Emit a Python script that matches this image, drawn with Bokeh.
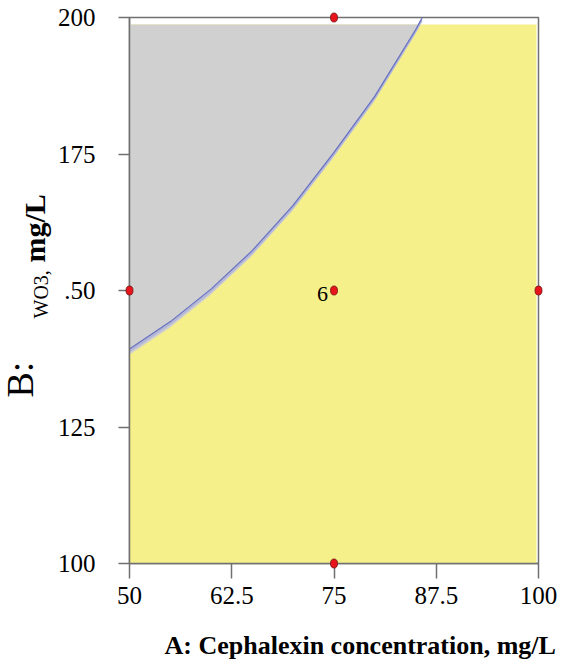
import numpy as np
from bokeh.plotting import figure
from bokeh.models import Range1d, FixedTicker
from bokeh.core.properties import value
from bokeh.embed import file_html
from bokeh.resources import INLINE

# ---- data ----
# design points (A: Cephalexin, B: WO3)
pts_a = [75, 50, 75, 100, 75]
pts_b = [200, 150, 150, 150, 100]
center_a = [75]
center_b = [150]
center_text = ["6"]

# boundary contour between grey (upper-left) and yellow regions
bound_a = [50, 55, 60, 65, 70, 75, 80, 85, 85.8]
bound_b = [139.3, 144.3, 150.3, 157.3, 165.6, 175.3, 185.6, 197.8, 200]

# printed extent of the shaded design region (slightly offset from the axes in the original)
region_a = [49.75, 99.75]
region_b = [98.7, 198.7]
shade_da, shade_db = -0.25, -1.3

x_ticks = [50, 62.5, 75, 87.5, 100]
x_tick_labels = ["50", "62.5", "75", "87.5", "100"]
y_ticks = [100, 125, 150, 175, 200]
y_tick_labels = ["100", "125", ".50", "175", "200"]

x_title = "A: Cephalexin concentration, mg/L"
y_title_parts = ["B:", "WO3,", "mg/L"]

FONT = "Liberation Serif"
AXC = "#707070"

W, H = 567, 662
FL, FR, FT, FB = 129, 538, 17, 563

p = figure(width=W, height=H, x_range=Range1d(50, 100), y_range=Range1d(100, 200),
           output_backend="svg", toolbar_location=None,
           min_border_left=FL, min_border_right=W - FR, min_border_top=FT, min_border_bottom=H - FB)
p.title.text = ""
p.grid.visible = False
p.background_fill_color = "white"
p.border_fill_color = "white"
p.outline_line_color = AXC
p.outline_line_width = 1.5


def px2a(px):
    return 50 + (px - FL) * 50.0 / (FR - FL)


def py2b(py):
    return 200 - (py - FT) * 100.0 / (FB - FT)


for ax, ticks, labels, tout, stand in ((p.xaxis, x_ticks, x_tick_labels, 15, 8),
                                       (p.yaxis, y_ticks, y_tick_labels, 11, 23)):
    ax.ticker = FixedTicker(ticks=ticks)
    ax.major_label_overrides = {t: l for t, l in zip(ticks, labels)}
    ax.minor_tick_line_color = None
    ax.major_tick_out = tout
    ax.major_tick_in = 0
    ax.major_label_standoff = stand
    ax.major_label_text_font = FONT
    ax.major_label_text_font_size = "25px"
    ax.major_label_text_color = "black"
    ax.axis_line_color = AXC
    ax.axis_line_width = 1.5
    ax.major_tick_line_color = AXC
    ax.major_tick_line_width = 1.5

# yellow region
p.quad(left=[region_a[0]], right=[region_a[1]], bottom=[region_b[0]], top=[region_b[1]],
       fill_color="#F5F08A", line_color=None)

# grey region (shifted like the printed fill)
ga = [a + shade_da for a in bound_a]
gb = [b + shade_db for b in bound_b]
patch_a = [region_a[0]] + ga + [region_a[0]]
patch_b = [region_b[1]] + gb + [region_b[1]]
patch_b[1] = gb[0]
p.patch(patch_a, patch_b, fill_color="#D0D0D0", line_color=None)

# contour line with a light halo beneath
p.line([a - 0.08 for a in bound_a], [b - 0.45 for b in bound_b], line_color="#B3B6D6", line_width=2.5)
p.line(bound_a, bound_b, line_color="#6670C0", line_width=1.2)

# design points
pts = p.ellipse(x=pts_a, y=pts_b, width=7, height=9, width_units="screen", height_units="screen",
                fill_color="#E8141C", line_color="#6A1010", line_width=0.8)
pts.level = "overlay"

p.text(x=center_a, y=center_b, text=center_text, text_font=value(FONT), text_font_size="22px",
       text_color="black", text_align="right", text_baseline="middle", x_offset=-6, y_offset=3)

# axis titles (drawn as overlay text so they are not clipped to the frame)
# (text, baseline px x, start px y, style, size px, angle)
title_specs = [
    (x_title, 164, 655, "bold", 26, 0.0),
    (y_title_parts[0], 34, 397, "normal", 38, np.pi / 2),
    (y_title_parts[1], 48, 318, "normal", 20, np.pi / 2),
    (y_title_parts[2], 45, 262, "bold", 30, np.pi / 2),
]
for txt, px, py, style, size, ang in title_specs:
    # text is drawn offset from its baseline by ~0.38 em; compensate toward the text's "up"
    if ang:
        px = px - 0.38 * size
    else:
        py = py - 0.38 * size
    r = p.text(x=[px2a(px)], y=[py2b(py)], text=[txt], angle=ang, text_font=value(FONT),
               text_font_style=style, text_font_size=f"{size}px", text_color="black",
               text_align="left", text_baseline="alphabetic")
    r.level = "overlay"

open("out.html", "w").write(file_html(p, INLINE))
